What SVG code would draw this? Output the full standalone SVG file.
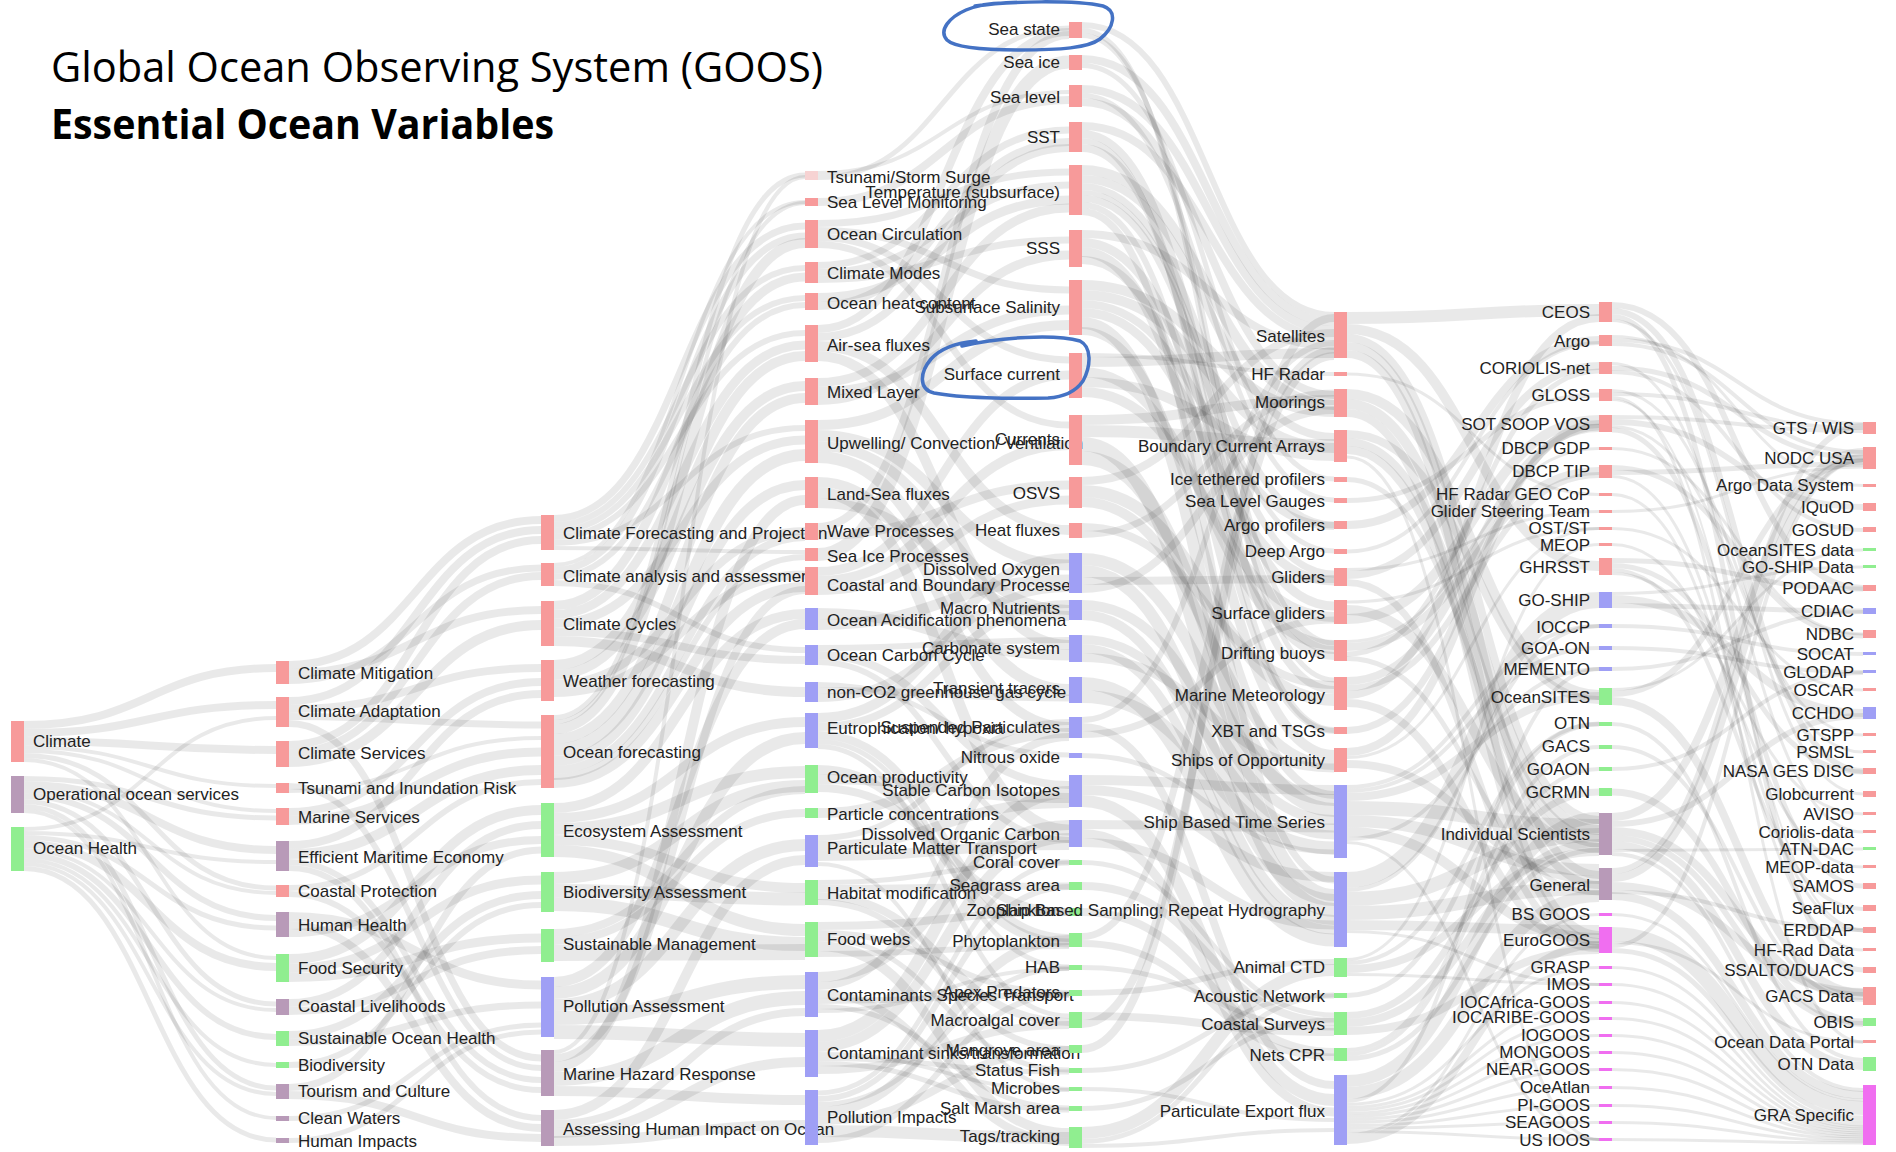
<svg xmlns="http://www.w3.org/2000/svg" width="1896" height="1152" viewBox="0 0 1896 1152">
<style>
.t{font-family:"Liberation Sans",Arial,sans-serif;font-size:17px;fill:#222}
.e{text-anchor:end}
#links path{fill:none;stroke:#000;stroke-opacity:.085}
.r{fill:#f79a9a}.g{fill:#90ee90}.b{fill:#9f9ff5}.m{fill:#b89ab8}.v{fill:#f06ef0}.p{fill:#f7d3d3}
.ttl{font-family:"Open Sans","Liberation Sans",sans-serif;font-size:42px;fill:#000}
.ann{fill:none;stroke:#4472c4;stroke-width:3.5;stroke-linecap:round;stroke-linejoin:round}
</style>
<rect width="1896" height="1152" fill="#fff"/>
<g id="links">
<path stroke-width="8" d="M24 725C150 725 150 668 276 668"/>
<path stroke-width="8" d="M24 733C150 733 150 705 276 705"/>
<path stroke-width="8" d="M24 741C150 741 150 750 276 750"/>
<path stroke-width="4" d="M24 747C150 747 150 786 276 786"/>
<path stroke-width="4" d="M24 751C150 751 150 811 276 811"/>
<path stroke-width="5" d="M24 755.5C150 755.5 150 888 276 888"/>
<path stroke-width="4" d="M24 760C150 760 150 958 276 958"/>
<path stroke-width="5" d="M24 778.5C150 778.5 150 818 276 818"/>
<path stroke-width="8" d="M24 785C150 785 150 850 276 850"/>
<path stroke-width="4" d="M24 791C150 791 150 893 276 893"/>
<path stroke-width="6" d="M24 796C150 796 150 918 276 918"/>
<path stroke-width="5" d="M24 801.5C150 801.5 150 1004 276 1004"/>
<path stroke-width="5" d="M24 806.5C150 806.5 150 1088 276 1088"/>
<path stroke-width="4" d="M24 811C150 811 150 1118 276 1118"/>
<path stroke-width="4" d="M24 829C150 829 150 718 276 718"/>
<path stroke-width="4" d="M24 833C150 833 150 862 276 862"/>
<path stroke-width="5" d="M24 837.5C150 837.5 150 928 276 928"/>
<path stroke-width="8" d="M24 844C150 844 150 967 276 967"/>
<path stroke-width="4" d="M24 850C150 850 150 1010 276 1010"/>
<path stroke-width="6" d="M24 855C150 855 150 1037 276 1037"/>
<path stroke-width="4" d="M24 860C150 860 150 1065 276 1065"/>
<path stroke-width="4" d="M24 864C150 864 150 1094 276 1094"/>
<path stroke-width="5" d="M24 868.5C150 868.5 150 1140 276 1140"/>
<path stroke-width="8" d="M289 665C415 665 415 520 541 520"/>
<path stroke-width="8" d="M289 673C415 673 415 610 541 610"/>
<path stroke-width="7" d="M289 680.5C415 680.5 415 568 541 568"/>
<path stroke-width="8" d="M289 701C415 701 415 530 541 530"/>
<path stroke-width="8" d="M289 709C415 709 415 668 541 668"/>
<path stroke-width="7" d="M289 716.5C415 716.5 415 725 541 725"/>
<path stroke-width="7" d="M289 723.5C415 723.5 415 1058 541 1058"/>
<path stroke-width="8" d="M289 745C415 745 415 540 541 540"/>
<path stroke-width="8" d="M289 753C415 753 415 576 541 576"/>
<path stroke-width="10" d="M289 762C415 762 415 625 541 625"/>
<path stroke-width="6" d="M289 786C415 786 415 1068 541 1068"/>
<path stroke-width="4" d="M289 791C415 791 415 738 541 738"/>
<path stroke-width="8" d="M289 812C415 812 415 682 541 682"/>
<path stroke-width="9" d="M289 820.5C415 820.5 415 752 541 752"/>
<path stroke-width="8" d="M289 845C415 845 415 694 541 694"/>
<path stroke-width="10" d="M289 854C415 854 415 770 541 770"/>
<path stroke-width="6" d="M289 862C415 862 415 1080 541 1080"/>
<path stroke-width="6" d="M289 868C415 868 415 1118 541 1118"/>
<path stroke-width="6" d="M289 888C415 888 415 782 541 782"/>
<path stroke-width="6" d="M289 894C415 894 415 1090 541 1090"/>
<path stroke-width="9" d="M289 916.5C415 916.5 415 985 541 985"/>
<path stroke-width="8" d="M289 925C415 925 415 1128 541 1128"/>
<path stroke-width="8" d="M289 933C415 933 415 840 541 840"/>
<path stroke-width="10" d="M289 959C415 959 415 810 541 810"/>
<path stroke-width="9" d="M289 968.5C415 968.5 415 880 541 880"/>
<path stroke-width="9" d="M289 977.5C415 977.5 415 938 541 938"/>
<path stroke-width="8" d="M289 1003C415 1003 415 825 541 825"/>
<path stroke-width="8" d="M289 1011C415 1011 415 950 541 950"/>
<path stroke-width="8" d="M289 1035C415 1035 415 895 541 895"/>
<path stroke-width="7" d="M289 1042.5C415 1042.5 415 1005 541 1005"/>
<path stroke-width="6" d="M289 1065C415 1065 415 905 541 905"/>
<path stroke-width="7" d="M289 1087.5C415 1087.5 415 850 541 850"/>
<path stroke-width="8" d="M289 1095C415 1095 415 1138 541 1138"/>
<path stroke-width="5" d="M289 1118.5C415 1118.5 415 1025 541 1025"/>
<path stroke-width="5" d="M289 1140.5C415 1140.5 415 1032 541 1032"/>
<path stroke-width="7" d="M554 518.5C680 518.5 680 226 805 226"/>
<path stroke-width="6" d="M554 525C680 525 680 268 805 268"/>
<path stroke-width="6" d="M554 531C680 531 680 298 805 298"/>
<path stroke-width="6" d="M554 537C680 537 680 333 805 333"/>
<path stroke-width="6" d="M554 543C680 543 680 428 805 428"/>
<path stroke-width="4" d="M554 548C680 548 680 552 805 552"/>
<path stroke-width="4" d="M554 565C680 565 680 202 805 202"/>
<path stroke-width="7" d="M554 570.5C680 570.5 680 236 805 236"/>
<path stroke-width="6" d="M554 577C680 577 680 305 805 305"/>
<path stroke-width="6" d="M554 583C680 583 680 650 805 650"/>
<path stroke-width="9" d="M554 605.5C680 605.5 680 277 805 277"/>
<path stroke-width="9" d="M554 614.5C680 614.5 680 345 805 345"/>
<path stroke-width="9" d="M554 623.5C680 623.5 680 440 805 440"/>
<path stroke-width="8" d="M554 632C680 632 680 660 805 660"/>
<path stroke-width="10" d="M554 641C680 641 680 692 805 692"/>
<path stroke-width="10" d="M554 665C680 665 680 356 805 356"/>
<path stroke-width="10" d="M554 675C680 675 680 386 805 386"/>
<path stroke-width="8" d="M554 684C680 684 680 531 805 531"/>
<path stroke-width="9" d="M554 692.5C680 692.5 680 575 805 575"/>
<path stroke-width="5" d="M554 717.5C680 717.5 680 175 805 175"/>
<path stroke-width="4" d="M554 722C680 722 680 203 805 203"/>
<path stroke-width="10" d="M554 729C680 729 680 243 805 243"/>
<path stroke-width="10" d="M554 739C680 739 680 398 805 398"/>
<path stroke-width="12" d="M554 750C680 750 680 455 805 455"/>
<path stroke-width="10" d="M554 761C680 761 680 485 805 485"/>
<path stroke-width="8" d="M554 770C680 770 680 537 805 537"/>
<path stroke-width="6" d="M554 777C680 777 680 557 805 557"/>
<path stroke-width="10" d="M554 783C680 783 680 587 805 587"/>
<path stroke-width="10" d="M554 808C680 808 680 614 805 614"/>
<path stroke-width="10" d="M554 818C680 818 680 722 805 722"/>
<path stroke-width="12" d="M554 829C680 829 680 772 805 772"/>
<path stroke-width="10" d="M554 840C680 840 680 888 805 888"/>
<path stroke-width="12" d="M554 851C680 851 680 930 805 930"/>
<path stroke-width="12" d="M554 878C680 878 680 786 805 786"/>
<path stroke-width="13" d="M554 890.5C680 890.5 680 899 805 899"/>
<path stroke-width="14" d="M554 904C680 904 680 944 805 944"/>
<path stroke-width="8" d="M554 933C680 933 680 790 805 790"/>
<path stroke-width="8" d="M554 941C680 941 680 813 805 813"/>
<path stroke-width="16" d="M554 953C680 953 680 952 805 952"/>
<path stroke-width="10" d="M554 982C680 982 680 624 805 624"/>
<path stroke-width="12" d="M554 993C680 993 680 738 805 738"/>
<path stroke-width="12" d="M554 1005C680 1005 680 845 805 845"/>
<path stroke-width="14" d="M554 1018C680 1018 680 982 805 982"/>
<path stroke-width="14" d="M554 1032C680 1032 680 1040 805 1040"/>
<path stroke-width="4" d="M554 1052C680 1052 680 177 805 177"/>
<path stroke-width="8" d="M554 1058C680 1058 680 590 805 590"/>
<path stroke-width="10" d="M554 1067C680 1067 680 500 805 500"/>
<path stroke-width="14" d="M554 1079C680 1079 680 998 805 998"/>
<path stroke-width="10" d="M554 1091C680 1091 680 1100 805 1100"/>
<path stroke-width="10" d="M554 1115C680 1115 680 860 805 860"/>
<path stroke-width="8" d="M554 1124C680 1124 680 1012 805 1012"/>
<path stroke-width="10" d="M554 1133C680 1133 680 1062 805 1062"/>
<path stroke-width="10" d="M554 1141C680 1141 680 1125 805 1125"/>
<path stroke-width="4" d="M818 173C943 173 943 92 1069 92"/>
<path stroke-width="5" d="M818 177.5C943 177.5 943 28 1069 28"/>
<path stroke-width="8" d="M818 202C943 202 943 100 1069 100"/>
<path stroke-width="7" d="M818 223.5C943 223.5 943 172 1069 172"/>
<path stroke-width="7" d="M818 230.5C943 230.5 943 290 1069 290"/>
<path stroke-width="7" d="M818 237.5C943 237.5 943 360 1069 360"/>
<path stroke-width="7" d="M818 244.5C943 244.5 943 425 1069 425"/>
<path stroke-width="7" d="M818 265.5C943 265.5 943 130 1069 130"/>
<path stroke-width="7" d="M818 272.5C943 272.5 943 185 1069 185"/>
<path stroke-width="7" d="M818 279.5C943 279.5 943 240 1069 240"/>
<path stroke-width="9" d="M818 297.5C943 297.5 943 200 1069 200"/>
<path stroke-width="8" d="M818 306C943 306 943 142 1069 142"/>
<path stroke-width="8" d="M818 329C943 329 943 32 1069 32"/>
<path stroke-width="8" d="M818 337C943 337 943 148 1069 148"/>
<path stroke-width="10" d="M818 346C943 346 943 530 1069 530"/>
<path stroke-width="10" d="M818 356C943 356 943 645 1069 645"/>
<path stroke-width="9" d="M818 382.5C943 382.5 943 208 1069 208"/>
<path stroke-width="9" d="M818 391.5C943 391.5 943 310 1069 310"/>
<path stroke-width="9" d="M818 400.5C943 400.5 943 255 1069 255"/>
<path stroke-width="10" d="M818 425C943 425 943 325 1069 325"/>
<path stroke-width="11" d="M818 435.5C943 435.5 943 565 1069 565"/>
<path stroke-width="10" d="M818 446C943 446 943 610 1069 610"/>
<path stroke-width="12" d="M818 457C943 457 943 690 1069 690"/>
<path stroke-width="10" d="M818 482C943 482 943 727 1069 727"/>
<path stroke-width="11" d="M818 492.5C943 492.5 943 830 1069 830"/>
<path stroke-width="10" d="M818 503C943 503 943 616 1069 616"/>
<path stroke-width="8" d="M818 527C943 527 943 35 1069 35"/>
<path stroke-width="9" d="M818 535.5C943 535.5 943 485 1069 485"/>
<path stroke-width="13" d="M818 554.5C943 554.5 943 62 1069 62"/>
<path stroke-width="9" d="M818 571.5C943 571.5 943 375 1069 375"/>
<path stroke-width="10" d="M818 581C943 581 943 445 1069 445"/>
<path stroke-width="9" d="M818 590.5C943 590.5 943 500 1069 500"/>
<path stroke-width="11" d="M818 613.5C943 613.5 943 655 1069 655"/>
<path stroke-width="11" d="M818 624.5C943 624.5 943 580 1069 580"/>
<path stroke-width="6" d="M818 648C943 648 943 640 1069 640"/>
<path stroke-width="8" d="M818 655C943 655 943 785 1069 785"/>
<path stroke-width="6" d="M818 662C943 662 943 840 1069 840"/>
<path stroke-width="5" d="M818 684.5C943 684.5 943 755 1069 755"/>
<path stroke-width="7" d="M818 690.5C943 690.5 943 698 1069 698"/>
<path stroke-width="8" d="M818 698C943 698 943 588 1069 588"/>
<path stroke-width="10" d="M818 718C943 718 943 558 1069 558"/>
<path stroke-width="8" d="M818 727C943 727 943 604 1069 604"/>
<path stroke-width="8" d="M818 735C943 735 943 938 1069 938"/>
<path stroke-width="5" d="M818 741.5C943 741.5 943 967 1069 967"/>
<path stroke-width="5" d="M818 746.5C943 746.5 943 1016 1069 1016"/>
<path stroke-width="9" d="M818 769.5C943 769.5 943 943 1069 943"/>
<path stroke-width="10" d="M818 779C943 779 943 798 1069 798"/>
<path stroke-width="8" d="M818 788C943 788 943 912 1069 912"/>
<path stroke-width="10" d="M818 813C943 813 943 733 1069 733"/>
<path stroke-width="6" d="M818 838C943 838 943 722 1069 722"/>
<path stroke-width="10" d="M818 846C943 846 943 803 1069 803"/>
<path stroke-width="10" d="M818 856C943 856 943 845 1069 845"/>
<path stroke-width="4" d="M818 864C943 864 943 1089 1069 1089"/>
<path stroke-width="5" d="M818 882.5C943 882.5 943 862 1069 862"/>
<path stroke-width="7" d="M818 888.5C943 888.5 943 886 1069 886"/>
<path stroke-width="8" d="M818 896C943 896 943 1022 1069 1022"/>
<path stroke-width="6" d="M818 902C943 902 943 1049 1069 1049"/>
<path stroke-width="8" d="M818 926C943 926 943 912 1069 912"/>
<path stroke-width="6" d="M818 933C943 933 943 993 1069 993"/>
<path stroke-width="5" d="M818 938.5C943 938.5 943 1070 1069 1070"/>
<path stroke-width="10" d="M818 946C943 946 943 1133 1069 1133"/>
<path stroke-width="6" d="M818 954C943 954 943 946 1069 946"/>
<path stroke-width="10" d="M818 977C943 977 943 825 1069 825"/>
<path stroke-width="8" d="M818 986C943 986 943 737 1069 737"/>
<path stroke-width="8" d="M818 994C943 994 943 1142 1069 1142"/>
<path stroke-width="6" d="M818 1001C943 1001 943 995 1069 995"/>
<path stroke-width="5" d="M818 1006.5C943 1006.5 943 1108 1069 1108"/>
<path stroke-width="4" d="M818 1011C943 1011 943 969 1069 969"/>
<path stroke-width="12" d="M818 1036C943 1036 943 792 1069 792"/>
<path stroke-width="10" d="M818 1047C943 1047 943 838 1069 838"/>
<path stroke-width="4" d="M818 1054C943 1054 943 1090 1069 1090"/>
<path stroke-width="5" d="M818 1058.5C943 1058.5 943 1072 1069 1072"/>
<path stroke-width="5" d="M818 1063.5C943 1063.5 943 1110 1069 1110"/>
<path stroke-width="8" d="M818 1070C943 1070 943 1025 1069 1025"/>
<path stroke-width="5" d="M818 1093C943 1093 943 863 1069 863"/>
<path stroke-width="6" d="M818 1099C943 1099 943 887 1069 887"/>
<path stroke-width="5" d="M818 1104.5C943 1104.5 943 968 1069 968"/>
<path stroke-width="10" d="M818 1112C943 1112 943 940 1069 940"/>
<path stroke-width="8" d="M818 1121C943 1121 943 1050 1069 1050"/>
<path stroke-width="12" d="M818 1131C943 1131 943 1138 1069 1138"/>
<path stroke-width="6" d="M818 1140C943 1140 943 994 1069 994"/>
<path stroke-width="6" d="M1082 25C1208 25 1208 315 1334 315"/>
<path stroke-width="5" d="M1082 30.5C1208 30.5 1208 680 1334 680"/>
<path stroke-width="5" d="M1082 35.5C1208 35.5 1208 643 1334 643"/>
<path stroke-width="8" d="M1082 59C1208 59 1208 322 1334 322"/>
<path stroke-width="5" d="M1082 65.5C1208 65.5 1208 479 1334 479"/>
<path stroke-width="8" d="M1082 89C1208 89 1208 330 1334 330"/>
<path stroke-width="5" d="M1082 95.5C1208 95.5 1208 500 1334 500"/>
<path stroke-width="8" d="M1082 102C1208 102 1208 395 1334 395"/>
<path stroke-width="8" d="M1082 126C1208 126 1208 338 1334 338"/>
<path stroke-width="8" d="M1082 134C1208 134 1208 650 1334 650"/>
<path stroke-width="6" d="M1082 141C1208 141 1208 730 1334 730"/>
<path stroke-width="8" d="M1082 148C1208 148 1208 690 1334 690"/>
<path stroke-width="10" d="M1082 170C1208 170 1208 405 1334 405"/>
<path stroke-width="8" d="M1082 179C1208 179 1208 437 1334 437"/>
<path stroke-width="7" d="M1082 186.5C1208 186.5 1208 525 1334 525"/>
<path stroke-width="5" d="M1082 192.5C1208 192.5 1208 551 1334 551"/>
<path stroke-width="7" d="M1082 198.5C1208 198.5 1208 574 1334 574"/>
<path stroke-width="6" d="M1082 205C1208 205 1208 731 1334 731"/>
<path stroke-width="7" d="M1082 211.5C1208 211.5 1208 880 1334 880"/>
<path stroke-width="8" d="M1082 234C1208 234 1208 346 1334 346"/>
<path stroke-width="9" d="M1082 242.5C1208 242.5 1208 606 1334 606"/>
<path stroke-width="10" d="M1082 252C1208 252 1208 755 1334 755"/>
<path stroke-width="8" d="M1082 260C1208 260 1208 656 1334 656"/>
<path stroke-width="10" d="M1082 285C1208 285 1208 412 1334 412"/>
<path stroke-width="10" d="M1082 295C1208 295 1208 448 1334 448"/>
<path stroke-width="8" d="M1082 304C1208 304 1208 526 1334 526"/>
<path stroke-width="9" d="M1082 312.5C1208 312.5 1208 581 1334 581"/>
<path stroke-width="12" d="M1082 323C1208 323 1208 895 1334 895"/>
<path stroke-width="8" d="M1082 331C1208 331 1208 795 1334 795"/>
<path stroke-width="4" d="M1082 355C1208 355 1208 374 1334 374"/>
<path stroke-width="10" d="M1082 362C1208 362 1208 353 1334 353"/>
<path stroke-width="10" d="M1082 372C1208 372 1208 645 1334 645"/>
<path stroke-width="10" d="M1082 382C1208 382 1208 456 1334 456"/>
<path stroke-width="10" d="M1082 392C1208 392 1208 617 1334 617"/>
<path stroke-width="10" d="M1082 420C1208 420 1208 400 1334 400"/>
<path stroke-width="12" d="M1082 431C1208 431 1208 445 1334 445"/>
<path stroke-width="14" d="M1082 444C1208 444 1208 910 1334 910"/>
<path stroke-width="14" d="M1082 458C1208 458 1208 810 1334 810"/>
<path stroke-width="8" d="M1082 481C1208 481 1208 333 1334 333"/>
<path stroke-width="12" d="M1082 491C1208 491 1208 700 1334 700"/>
<path stroke-width="10" d="M1082 502C1208 502 1208 765 1334 765"/>
<path stroke-width="8" d="M1082 527C1208 527 1208 685 1334 685"/>
<path stroke-width="7" d="M1082 534.5C1208 534.5 1208 393 1334 393"/>
<path stroke-width="12" d="M1082 559C1208 559 1208 800 1334 800"/>
<path stroke-width="12" d="M1082 571C1208 571 1208 900 1334 900"/>
<path stroke-width="8" d="M1082 581C1208 581 1208 579 1334 579"/>
<path stroke-width="8" d="M1082 589C1208 589 1208 410 1334 410"/>
<path stroke-width="10" d="M1082 605C1208 605 1208 820 1334 820"/>
<path stroke-width="10" d="M1082 615C1208 615 1208 920 1334 920"/>
<path stroke-width="9" d="M1082 639.5C1208 639.5 1208 835 1334 835"/>
<path stroke-width="9" d="M1082 648.5C1208 648.5 1208 930 1334 930"/>
<path stroke-width="9" d="M1082 657.5C1208 657.5 1208 768 1334 768"/>
<path stroke-width="13" d="M1082 683.5C1208 683.5 1208 940 1334 940"/>
<path stroke-width="13" d="M1082 696.5C1208 696.5 1208 848 1334 848"/>
<path stroke-width="6" d="M1082 720C1208 720 1208 343 1334 343"/>
<path stroke-width="8" d="M1082 727C1208 727 1208 1085 1334 1085"/>
<path stroke-width="7" d="M1082 734.5C1208 734.5 1208 620 1334 620"/>
<path stroke-width="5" d="M1082 755.5C1208 755.5 1208 852 1334 852"/>
<path stroke-width="10" d="M1082 780C1208 780 1208 790 1334 790"/>
<path stroke-width="10" d="M1082 790C1208 790 1208 877 1334 877"/>
<path stroke-width="12" d="M1082 801C1208 801 1208 1100 1334 1100"/>
<path stroke-width="9" d="M1082 824.5C1208 824.5 1208 828 1334 828"/>
<path stroke-width="9" d="M1082 833.5C1208 833.5 1208 1112 1334 1112"/>
<path stroke-width="9" d="M1082 842.5C1208 842.5 1208 925 1334 925"/>
<path stroke-width="5" d="M1082 862.5C1208 862.5 1208 1015 1334 1015"/>
<path stroke-width="8" d="M1082 886C1208 886 1208 1022 1334 1022"/>
<path stroke-width="8" d="M1082 912C1208 912 1208 1052 1334 1052"/>
<path stroke-width="7" d="M1082 936.5C1208 936.5 1208 350 1334 350"/>
<path stroke-width="7" d="M1082 943.5C1208 943.5 1208 1057 1334 1057"/>
<path stroke-width="5" d="M1082 967.5C1208 967.5 1208 1028 1334 1028"/>
<path stroke-width="6" d="M1082 993C1208 993 1208 962 1334 962"/>
<path stroke-width="8" d="M1082 1016C1208 1016 1208 1032 1334 1032"/>
<path stroke-width="8" d="M1082 1024C1208 1024 1208 356 1334 356"/>
<path stroke-width="8" d="M1082 1049C1208 1049 1208 318 1334 318"/>
<path stroke-width="5" d="M1082 1070.5C1208 1070.5 1208 995 1334 995"/>
<path stroke-width="4" d="M1082 1089C1208 1089 1208 1120 1334 1120"/>
<path stroke-width="5" d="M1082 1108.5C1208 1108.5 1208 1020 1334 1020"/>
<path stroke-width="12" d="M1082 1133C1208 1133 1208 970 1334 970"/>
<path stroke-width="5" d="M1082 1141.5C1208 1141.5 1208 996 1334 996"/>
<path stroke-width="4" d="M1082 1146C1208 1146 1208 1130 1334 1130"/>
<path stroke-width="12" d="M1347 318C1473 318 1473 310 1599 310"/>
<path stroke-width="10" d="M1347 329C1473 329 1473 566 1599 566"/>
<path stroke-width="8" d="M1347 338C1473 338 1473 820 1599 820"/>
<path stroke-width="8" d="M1347 346C1473 346 1473 875 1599 875"/>
<path stroke-width="8" d="M1347 354C1473 354 1473 935 1599 935"/>
<path stroke-width="3" d="M1347 374C1473 374 1473 494.5 1599 494.5"/>
<path stroke-width="10" d="M1347 394C1473 394 1473 695 1599 695"/>
<path stroke-width="10" d="M1347 404C1473 404 1473 830 1599 830"/>
<path stroke-width="8" d="M1347 413C1473 413 1473 942 1599 942"/>
<path stroke-width="8" d="M1347 434C1473 434 1473 700 1599 700"/>
<path stroke-width="8" d="M1347 442C1473 442 1473 838 1599 838"/>
<path stroke-width="8" d="M1347 450C1473 450 1473 885 1599 885"/>
<path stroke-width="3" d="M1347 457C1473 457 1473 1139.5 1599 1139.5"/>
<path stroke-width="5" d="M1347 479.5C1473 479.5 1473 845 1599 845"/>
<path stroke-width="5" d="M1347 500.5C1473 500.5 1473 395 1599 395"/>
<path stroke-width="8" d="M1347 525C1473 525 1473 340 1599 340"/>
<path stroke-width="4" d="M1347 551.5C1473 551.5 1473 343 1599 343"/>
<path stroke-width="3" d="M1347 569.5C1473 569.5 1473 511.5 1599 511.5"/>
<path stroke-width="8" d="M1347 575C1473 575 1473 366 1599 366"/>
<path stroke-width="7" d="M1347 582.5C1473 582.5 1473 945 1599 945"/>
<path stroke-width="3" d="M1347 602C1473 602 1473 528.5 1599 528.5"/>
<path stroke-width="10" d="M1347 610C1473 610 1473 848 1599 848"/>
<path stroke-width="10" d="M1347 619C1473 619 1473 420 1599 420"/>
<path stroke-width="3" d="M1347 641.5C1473 641.5 1473 448.5 1599 448.5"/>
<path stroke-width="8" d="M1347 647C1473 647 1473 471 1599 471"/>
<path stroke-width="5" d="M1347 654C1473 654 1473 371 1599 371"/>
<path stroke-width="5" d="M1347 658.5C1473 658.5 1473 893 1599 893"/>
<path stroke-width="8" d="M1347 681C1473 681 1473 428 1599 428"/>
<path stroke-width="6" d="M1347 688C1473 688 1473 475 1599 475"/>
<path stroke-width="8" d="M1347 695C1473 695 1473 318 1599 318"/>
<path stroke-width="8" d="M1347 703C1473 703 1473 948 1599 948"/>
<path stroke-width="7" d="M1347 730.5C1473 730.5 1473 427 1599 427"/>
<path stroke-width="8" d="M1347 752C1473 752 1473 424 1599 424"/>
<path stroke-width="3" d="M1347 757.5C1473 757.5 1473 528.5 1599 528.5"/>
<path stroke-width="8" d="M1347 764C1473 764 1473 880 1599 880"/>
<path stroke-width="4" d="M1347 787C1473 787 1473 626 1599 626"/>
<path stroke-width="4" d="M1347 791C1473 791 1473 648 1599 648"/>
<path stroke-width="8" d="M1347 797C1473 797 1473 696 1599 696"/>
<path stroke-width="14" d="M1347 808C1473 808 1473 826 1599 826"/>
<path stroke-width="12" d="M1347 821C1473 821 1473 870 1599 870"/>
<path stroke-width="10" d="M1347 832C1473 832 1473 938 1599 938"/>
<path stroke-width="4" d="M1347 839C1473 839 1473 669 1599 669"/>
<path stroke-width="3" d="M1347 842.5C1473 842.5 1473 1139.5 1599 1139.5"/>
<path stroke-width="16" d="M1347 880C1473 880 1473 600 1599 600"/>
<path stroke-width="4" d="M1347 890C1473 890 1473 626 1599 626"/>
<path stroke-width="14" d="M1347 899C1473 899 1473 835 1599 835"/>
<path stroke-width="14" d="M1347 913C1473 913 1473 888 1599 888"/>
<path stroke-width="10" d="M1347 925C1473 925 1473 930 1599 930"/>
<path stroke-width="3" d="M1347 931.5C1473 931.5 1473 984.5 1599 984.5"/>
<path stroke-width="3" d="M1347 959.5C1473 959.5 1473 544.5 1599 544.5"/>
<path stroke-width="4" d="M1347 963C1473 963 1473 724 1599 724"/>
<path stroke-width="8" d="M1347 969C1473 969 1473 852 1599 852"/>
<path stroke-width="3" d="M1347 974.5C1473 974.5 1473 984.5 1599 984.5"/>
<path stroke-width="5" d="M1347 995.5C1473 995.5 1473 724 1599 724"/>
<path stroke-width="7" d="M1347 1015.5C1473 1015.5 1473 792 1599 792"/>
<path stroke-width="8" d="M1347 1023C1473 1023 1473 843 1599 843"/>
<path stroke-width="8" d="M1347 1031C1473 1031 1473 950 1599 950"/>
<path stroke-width="4" d="M1347 1050C1473 1050 1473 747 1599 747"/>
<path stroke-width="4" d="M1347 1054C1473 1054 1473 769 1599 769"/>
<path stroke-width="5" d="M1347 1058.5C1473 1058.5 1473 850 1599 850"/>
<path stroke-width="12" d="M1347 1081C1473 1081 1473 818 1599 818"/>
<path stroke-width="12" d="M1347 1093C1473 1093 1473 896 1599 896"/>
<path stroke-width="4" d="M1347 1101C1473 1101 1473 669 1599 669"/>
<path stroke-width="3" d="M1347 1104.5C1473 1104.5 1473 967.5 1599 967.5"/>
<path stroke-width="3" d="M1347 1107.5C1473 1107.5 1473 1002.5 1599 1002.5"/>
<path stroke-width="3" d="M1347 1110.5C1473 1110.5 1473 1018.5 1599 1018.5"/>
<path stroke-width="3" d="M1347 1113.5C1473 1113.5 1473 1035.5 1599 1035.5"/>
<path stroke-width="3" d="M1347 1116.5C1473 1116.5 1473 1052.5 1599 1052.5"/>
<path stroke-width="3" d="M1347 1119.5C1473 1119.5 1473 1069.5 1599 1069.5"/>
<path stroke-width="3" d="M1347 1122.5C1473 1122.5 1473 1087.5 1599 1087.5"/>
<path stroke-width="3" d="M1347 1125.5C1473 1125.5 1473 1105.5 1599 1105.5"/>
<path stroke-width="3" d="M1347 1128.5C1473 1128.5 1473 1122.5 1599 1122.5"/>
<path stroke-width="3" d="M1347 1131.5C1473 1131.5 1473 1139.5 1599 1139.5"/>
<path stroke-width="3" d="M1347 1134.5C1473 1134.5 1473 914.5 1599 914.5"/>
<path stroke-width="8" d="M1347 1140C1473 1140 1473 945 1599 945"/>
<path stroke-width="6" d="M1612 305C1738 305 1738 588 1863 588"/>
<path stroke-width="6" d="M1612 311C1738 311 1738 771 1863 771"/>
<path stroke-width="5" d="M1612 316.5C1738 316.5 1738 970 1863 970"/>
<path stroke-width="3" d="M1612 320.5C1738 320.5 1738 794 1863 794"/>
<path stroke-width="3" d="M1612 336.5C1738 336.5 1738 485.5 1863 485.5"/>
<path stroke-width="4" d="M1612 340C1738 340 1738 424 1863 424"/>
<path stroke-width="4" d="M1612 344C1738 344 1738 452 1863 452"/>
<path stroke-width="3" d="M1612 363.5C1738 363.5 1738 832 1863 832"/>
<path stroke-width="5" d="M1612 368C1738 368 1738 458 1863 458"/>
<path stroke-width="4" d="M1612 372C1738 372 1738 530 1863 530"/>
<path stroke-width="3" d="M1612 390.5C1738 390.5 1738 752 1863 752"/>
<path stroke-width="4" d="M1612 394C1738 394 1738 428 1863 428"/>
<path stroke-width="3" d="M1612 397.5C1738 397.5 1738 1042 1863 1042"/>
<path stroke-width="2" d="M1612 400C1738 400 1738 929 1863 929"/>
<path stroke-width="4" d="M1612 417C1738 417 1738 431 1863 431"/>
<path stroke-width="6" d="M1612 422C1738 422 1738 507 1863 507"/>
<path stroke-width="3" d="M1612 426.5C1738 426.5 1738 735 1863 735"/>
<path stroke-width="5" d="M1612 430C1738 430 1738 886 1863 886"/>
<path stroke-width="3" d="M1612 448.5C1738 448.5 1738 634 1863 634"/>
<path stroke-width="5" d="M1612 467.5C1738 467.5 1738 636 1863 636"/>
<path stroke-width="5" d="M1612 472.5C1738 472.5 1738 464 1863 464"/>
<path stroke-width="3" d="M1612 476.5C1738 476.5 1738 931 1863 931"/>
<path stroke-width="3" d="M1612 494.5C1738 494.5 1738 950 1863 950"/>
<path stroke-width="3" d="M1612 511.5C1738 511.5 1738 467 1863 467"/>
<path stroke-width="3" d="M1612 528.5C1738 528.5 1738 690 1863 690"/>
<path stroke-width="3" d="M1612 544.5C1738 544.5 1738 867 1863 867"/>
<path stroke-width="5" d="M1612 560.5C1738 560.5 1738 589 1863 589"/>
<path stroke-width="5" d="M1612 565.5C1738 565.5 1738 772 1863 772"/>
<path stroke-width="4" d="M1612 570C1738 570 1738 909 1863 909"/>
<path stroke-width="3" d="M1612 573.5C1738 573.5 1738 814 1863 814"/>
<path stroke-width="3" d="M1612 593.5C1738 593.5 1738 567 1863 567"/>
<path stroke-width="8" d="M1612 599C1738 599 1738 713 1863 713"/>
<path stroke-width="5" d="M1612 605.5C1738 605.5 1738 611 1863 611"/>
<path stroke-width="4" d="M1612 626C1738 626 1738 654 1863 654"/>
<path stroke-width="4" d="M1612 648C1738 648 1738 672 1863 672"/>
<path stroke-width="4" d="M1612 669C1738 669 1738 612 1863 612"/>
<path stroke-width="3" d="M1612 689.5C1738 689.5 1738 550 1863 550"/>
<path stroke-width="6" d="M1612 694C1738 694 1738 462 1863 462"/>
<path stroke-width="8" d="M1612 701C1738 701 1738 993 1863 993"/>
<path stroke-width="4" d="M1612 724C1738 724 1738 1060 1863 1060"/>
<path stroke-width="4" d="M1612 747C1738 747 1738 1000 1863 1000"/>
<path stroke-width="4" d="M1612 769C1738 769 1738 673 1863 673"/>
<path stroke-width="7" d="M1612 792C1738 792 1738 1022 1863 1022"/>
<path stroke-width="8" d="M1612 817C1738 817 1738 452 1863 452"/>
<path stroke-width="6" d="M1612 824C1738 824 1738 716 1863 716"/>
<path stroke-width="8" d="M1612 831C1738 831 1738 996 1863 996"/>
<path stroke-width="6" d="M1612 838C1738 838 1738 1024 1863 1024"/>
<path stroke-width="8" d="M1612 845C1738 845 1738 1066 1863 1066"/>
<path stroke-width="3" d="M1612 850.5C1738 850.5 1738 849 1863 849"/>
<path stroke-width="4" d="M1612 854C1738 854 1738 1090 1863 1090"/>
<path stroke-width="6" d="M1612 871C1738 871 1738 426 1863 426"/>
<path stroke-width="8" d="M1612 878C1738 878 1738 458 1863 458"/>
<path stroke-width="8" d="M1612 886C1738 886 1738 992 1863 992"/>
<path stroke-width="4" d="M1612 892C1738 892 1738 930 1863 930"/>
<path stroke-width="8" d="M1612 896C1738 896 1738 1095 1863 1095"/>
<path stroke-width="3" d="M1612 914.5C1738 914.5 1738 1100 1863 1100"/>
<path stroke-width="14" d="M1612 934C1738 934 1738 1108 1863 1108"/>
<path stroke-width="3" d="M1612 942.5C1738 942.5 1738 1042 1863 1042"/>
<path stroke-width="4" d="M1612 946C1738 946 1738 460 1863 460"/>
<path stroke-width="5" d="M1612 950.5C1738 950.5 1738 1118 1863 1118"/>
<path stroke-width="3" d="M1612 967.5C1738 967.5 1738 1122 1863 1122"/>
<path stroke-width="3" d="M1612 984.5C1738 984.5 1738 1125 1863 1125"/>
<path stroke-width="3" d="M1612 1002.5C1738 1002.5 1738 1127 1863 1127"/>
<path stroke-width="3" d="M1612 1018.5C1738 1018.5 1738 1129 1863 1129"/>
<path stroke-width="3" d="M1612 1035.5C1738 1035.5 1738 1131 1863 1131"/>
<path stroke-width="3" d="M1612 1052.5C1738 1052.5 1738 1133 1863 1133"/>
<path stroke-width="3" d="M1612 1069.5C1738 1069.5 1738 1135 1863 1135"/>
<path stroke-width="3" d="M1612 1087.5C1738 1087.5 1738 1137 1863 1137"/>
<path stroke-width="3" d="M1612 1105.5C1738 1105.5 1738 1139 1863 1139"/>
<path stroke-width="3" d="M1612 1122.5C1738 1122.5 1738 1141 1863 1141"/>
<path stroke-width="3" d="M1612 1139.5C1738 1139.5 1738 1143 1863 1143"/>
</g>
<g id="nodes">
<g id="n-climate"><rect class="r" x="11" y="721" width="13" height="41"/><text class="t" x="33" y="747">Climate</text></g>
<g id="n-operational"><rect class="m" x="11" y="776" width="13" height="37"/><text class="t" x="33" y="800">Operational ocean services</text></g>
<g id="n-oceanhealth"><rect class="g" x="11" y="827" width="13" height="44"/><text class="t" x="33" y="854">Ocean Health</text></g>

<g id="n-climatemitigation"><rect class="r" x="276" y="661" width="13" height="23"/><text class="t" x="298" y="679">Climate Mitigation</text></g>
<g id="n-climateadaptation"><rect class="r" x="276" y="697" width="13" height="30"/><text class="t" x="298" y="717">Climate Adaptation</text></g>
<g id="n-climateservices"><rect class="r" x="276" y="741" width="13" height="26"/><text class="t" x="298" y="759">Climate Services</text></g>
<g id="n-tsunamirisk"><rect class="r" x="276" y="783" width="13" height="10"/><text class="t" x="298" y="794">Tsunami and Inundation Risk</text></g>
<g id="n-marineservices"><rect class="r" x="276" y="808" width="13" height="17"/><text class="t" x="298" y="823">Marine Services</text></g>
<g id="n-efficient"><rect class="m" x="276" y="841" width="13" height="30"/><text class="t" x="298" y="863">Efficient Maritime Economy</text></g>
<g id="n-coastalprotection"><rect class="r" x="276" y="885" width="13" height="12"/><text class="t" x="298" y="897">Coastal Protection</text></g>
<g id="n-humanhealth"><rect class="m" x="276" y="912" width="13" height="25"/><text class="t" x="298" y="931">Human Health</text></g>
<g id="n-foodsecurity"><rect class="g" x="276" y="954" width="13" height="28"/><text class="t" x="298" y="974">Food Security</text></g>
<g id="n-coastallivelihoods"><rect class="m" x="276" y="999" width="13" height="16"/><text class="t" x="298" y="1012">Coastal Livelihoods</text></g>
<g id="n-sustainablehealth"><rect class="g" x="276" y="1031" width="13" height="15"/><text class="t" x="298" y="1044">Sustainable Ocean Health</text></g>
<g id="n-biodiversity"><rect class="g" x="276" y="1062" width="13" height="6"/><text class="t" x="298" y="1071">Biodiversity</text></g>
<g id="n-tourism"><rect class="m" x="276" y="1084" width="13" height="15"/><text class="t" x="298" y="1097">Tourism and Culture</text></g>
<g id="n-cleanwaters"><rect class="m" x="276" y="1116" width="13" height="5"/><text class="t" x="298" y="1124">Clean Waters</text></g>
<g id="n-humanimpacts"><rect class="m" x="276" y="1138" width="13" height="5"/><text class="t" x="298" y="1147">Human Impacts</text></g>

<g id="n-forecastproj"><rect class="r" x="541" y="515" width="13" height="35"/><text class="t" x="563" y="539">Climate Forecasting and Projection</text></g>
<g id="n-climateanalysis"><rect class="r" x="541" y="563" width="13" height="23"/><text class="t" x="563" y="582">Climate analysis and assessment</text></g>
<g id="n-climatecycles"><rect class="r" x="541" y="601" width="13" height="45"/><text class="t" x="563" y="630">Climate Cycles</text></g>
<g id="n-weather"><rect class="r" x="541" y="660" width="13" height="41"/><text class="t" x="563" y="687">Weather forecasting</text></g>
<g id="n-oceanforecast"><rect class="r" x="541" y="715" width="13" height="73"/><text class="t" x="563" y="758">Ocean forecasting</text></g>
<g id="n-ecosystem"><rect class="g" x="541" y="803" width="13" height="54"/><text class="t" x="563" y="837">Ecosystem Assessment</text></g>
<g id="n-biodivassess"><rect class="g" x="541" y="872" width="13" height="40"/><text class="t" x="563" y="898">Biodiversity Assessment</text></g>
<g id="n-sustmgmt"><rect class="g" x="541" y="929" width="13" height="33"/><text class="t" x="563" y="950">Sustainable Management</text></g>
<g id="n-pollassess"><rect class="b" x="541" y="977" width="13" height="60"/><text class="t" x="563" y="1012">Pollution Assessment</text></g>
<g id="n-hazard"><rect class="m" x="541" y="1050" width="13" height="46"/><text class="t" x="563" y="1080">Marine Hazard Response</text></g>
<g id="n-humanimpact"><rect class="m" x="541" y="1110" width="13" height="36"/><text class="t" x="563" y="1135">Assessing Human Impact on Ocean</text></g>

<g id="n-stormsurge"><rect class="p" x="805" y="171" width="13" height="9"/><text class="t" x="827" y="183">Tsunami/Storm Surge</text></g>
<g id="n-slmonitoring"><rect class="r" x="805" y="198" width="13" height="8"/><text class="t" x="827" y="208">Sea Level Monitoring</text></g>
<g id="n-circulation"><rect class="r" x="805" y="220" width="13" height="28"/><text class="t" x="827" y="240">Ocean Circulation</text></g>
<g id="n-climatemodes"><rect class="r" x="805" y="262" width="13" height="21"/><text class="t" x="827" y="279">Climate Modes</text></g>
<g id="n-heatcontent"><rect class="r" x="805" y="293" width="13" height="17"/><text class="t" x="827" y="309">Ocean heat content</text></g>
<g id="n-airsea"><rect class="r" x="805" y="325" width="13" height="37"/><text class="t" x="827" y="351">Air-sea fluxes</text></g>
<g id="n-mixedlayer"><rect class="r" x="805" y="378" width="13" height="27"/><text class="t" x="827" y="398">Mixed Layer</text></g>
<g id="n-upwelling"><rect class="r" x="805" y="420" width="13" height="43"/><text class="t" x="827" y="449">Upwelling/ Convection/ Ventilation</text></g>
<g id="n-landsea"><rect class="r" x="805" y="477" width="13" height="31"/><text class="t" x="827" y="500">Land-Sea fluxes</text></g>
<g id="n-wave"><rect class="r" x="805" y="523" width="13" height="17"/><text class="t" x="827" y="537">Wave Processes</text></g>
<g id="n-seaiceproc"><rect class="r" x="805" y="548" width="13" height="13"/><text class="t" x="827" y="562">Sea Ice Processes</text></g>
<g id="n-coastalbound"><rect class="r" x="805" y="567" width="13" height="28"/><text class="t" x="827" y="591">Coastal and Boundary Processes</text></g>
<g id="n-acidification"><rect class="b" x="805" y="608" width="13" height="22"/><text class="t" x="827" y="626">Ocean Acidification phenomena</text></g>
<g id="n-carboncycle"><rect class="b" x="805" y="645" width="13" height="20"/><text class="t" x="827" y="661">Ocean Carbon Cycle</text></g>
<g id="n-nonco2"><rect class="b" x="805" y="682" width="13" height="20"/><text class="t" x="827" y="698">non-CO2 greenhouse gas cycle</text></g>
<g id="n-eutroph"><rect class="b" x="805" y="713" width="13" height="35"/><text class="t" x="827" y="734">Eutrophication/ hypoxia</text></g>
<g id="n-productivity"><rect class="g" x="805" y="765" width="13" height="28"/><text class="t" x="827" y="783">Ocean productivity</text></g>
<g id="n-particleconc"><rect class="g" x="805" y="808" width="13" height="10"/><text class="t" x="827" y="820">Particle concentrations</text></g>
<g id="n-pmtransport"><rect class="b" x="805" y="835" width="13" height="32"/><text class="t" x="827" y="854">Particulate Matter Transport</text></g>
<g id="n-habitat"><rect class="g" x="805" y="880" width="13" height="25"/><text class="t" x="827" y="899">Habitat modification</text></g>
<g id="n-foodwebs"><rect class="g" x="805" y="922" width="13" height="35"/><text class="t" x="827" y="945">Food webs</text></g>
<g id="n-contamtransport"><rect class="b" x="805" y="972" width="13" height="45"/><text class="t" x="827" y="1001">Contaminants Species Transport</text></g>
<g id="n-contamsinks"><rect class="b" x="805" y="1030" width="13" height="47"/><text class="t" x="827" y="1059">Contaminant sinks/transformation</text></g>
<g id="n-pollimpacts"><rect class="b" x="805" y="1090" width="13" height="55"/><text class="t" x="827" y="1123">Pollution Impacts</text></g>

<g id="n-seastate"><rect class="r" x="1069" y="22" width="13" height="16"/><text class="t e" x="1060" y="35">Sea state</text></g>
<g id="n-seaice"><rect class="r" x="1069" y="55" width="13" height="15"/><text class="t e" x="1060" y="68">Sea ice</text></g>
<g id="n-sealevel"><rect class="r" x="1069" y="85" width="13" height="22"/><text class="t e" x="1060" y="103">Sea level</text></g>
<g id="n-sst"><rect class="r" x="1069" y="122" width="13" height="30"/><text class="t e" x="1060" y="143">SST</text></g>
<g id="n-tempsub"><rect class="r" x="1069" y="165" width="13" height="50"/><text class="t e" x="1060" y="198">Temperature (subsurface)</text></g>
<g id="n-sss"><rect class="r" x="1069" y="230" width="13" height="37"/><text class="t e" x="1060" y="254">SSS</text></g>
<g id="n-subsal"><rect class="r" x="1069" y="280" width="13" height="55"/><text class="t e" x="1060" y="313">Subsurface Salinity</text></g>
<g id="n-surfcurrent"><rect class="r" x="1069" y="353" width="13" height="45"/><text class="t e" x="1060" y="380">Surface current</text></g>
<g id="n-currents"><rect class="r" x="1069" y="415" width="13" height="50"/><text class="t e" x="1060" y="445">Currents</text></g>
<g id="n-osvs"><rect class="r" x="1069" y="477" width="13" height="31"/><text class="t e" x="1060" y="499">OSVS</text></g>
<g id="n-heatfluxes"><rect class="r" x="1069" y="523" width="13" height="15"/><text class="t e" x="1060" y="536">Heat fluxes</text></g>
<g id="n-oxygen"><rect class="b" x="1069" y="553" width="13" height="40"/><text class="t e" x="1060" y="575">Dissolved Oxygen</text></g>
<g id="n-nutrients"><rect class="b" x="1069" y="600" width="13" height="20"/><text class="t e" x="1060" y="614">Macro Nutrients</text></g>
<g id="n-carbonate"><rect class="b" x="1069" y="635" width="13" height="27"/><text class="t e" x="1060" y="654">Carbonate system</text></g>
<g id="n-tracers"><rect class="b" x="1069" y="677" width="13" height="26"/><text class="t e" x="1060" y="694">Transient tracers</text></g>
<g id="n-suspended"><rect class="b" x="1069" y="717" width="13" height="21"/><text class="t e" x="1060" y="733">Suspended Particulates</text></g>
<g id="n-nitrous"><rect class="b" x="1069" y="753" width="13" height="5"/><text class="t e" x="1060" y="763">Nitrous oxide</text></g>
<g id="n-isotopes"><rect class="b" x="1069" y="775" width="13" height="32"/><text class="t e" x="1060" y="796">Stable Carbon Isotopes</text></g>
<g id="n-doc"><rect class="b" x="1069" y="820" width="13" height="27"/><text class="t e" x="1060" y="840">Dissolved Organic Carbon</text></g>
<g id="n-coral"><rect class="g" x="1069" y="860" width="13" height="5"/><text class="t e" x="1060" y="868">Coral cover</text></g>
<g id="n-seagrass"><rect class="g" x="1069" y="882" width="13" height="8"/><text class="t e" x="1060" y="891">Seagrass area</text></g>
<g id="n-zooplankton"><rect class="g" x="1069" y="908" width="13" height="8"/><text class="t e" x="1060" y="916">Zooplankton</text></g>
<g id="n-phytoplankton"><rect class="g" x="1069" y="933" width="13" height="14"/><text class="t e" x="1060" y="947">Phytoplankton</text></g>
<g id="n-hab"><rect class="g" x="1069" y="965" width="13" height="5"/><text class="t e" x="1060" y="973">HAB</text></g>
<g id="n-apex"><rect class="g" x="1069" y="990" width="13" height="6"/><text class="t e" x="1060" y="998">Apex Predators</text></g>
<g id="n-macroalgal"><rect class="g" x="1069" y="1012" width="13" height="16"/><text class="t e" x="1060" y="1026">Macroalgal cover</text></g>
<g id="n-mangrove"><rect class="g" x="1069" y="1045" width="13" height="8"/><text class="t e" x="1060" y="1056">Mangrove area</text></g>
<g id="n-statusfish"><rect class="g" x="1069" y="1068" width="13" height="5"/><text class="t e" x="1060" y="1076">Status Fish</text></g>
<g id="n-microbes"><rect class="g" x="1069" y="1087" width="13" height="4"/><text class="t e" x="1060" y="1094">Microbes</text></g>
<g id="n-saltmarsh"><rect class="g" x="1069" y="1106" width="13" height="5"/><text class="t e" x="1060" y="1114">Salt Marsh area</text></g>
<g id="n-tags"><rect class="g" x="1069" y="1127" width="13" height="21"/><text class="t e" x="1060" y="1142">Tags/tracking</text></g>

<g id="n-satellites"><rect class="r" x="1334" y="312" width="13" height="46"/><text class="t e" x="1325" y="342">Satellites</text></g>
<g id="n-hfradar"><rect class="r" x="1334" y="372" width="13" height="4"/><text class="t e" x="1325" y="380">HF Radar</text></g>
<g id="n-moorings"><rect class="r" x="1334" y="389" width="13" height="28"/><text class="t e" x="1325" y="408">Moorings</text></g>
<g id="n-boundary"><rect class="r" x="1334" y="430" width="13" height="32"/><text class="t e" x="1325" y="452">Boundary Current Arrays</text></g>
<g id="n-icetethered"><rect class="r" x="1334" y="477" width="13" height="5"/><text class="t e" x="1325" y="485">Ice tethered profilers</text></g>
<g id="n-slgauges"><rect class="r" x="1334" y="498" width="13" height="5"/><text class="t e" x="1325" y="507">Sea Level Gauges</text></g>
<g id="n-argoprof"><rect class="r" x="1334" y="521" width="13" height="8"/><text class="t e" x="1325" y="531">Argo profilers</text></g>
<g id="n-deepargo"><rect class="r" x="1334" y="549" width="13" height="5"/><text class="t e" x="1325" y="557">Deep Argo</text></g>
<g id="n-gliders"><rect class="r" x="1334" y="568" width="13" height="18"/><text class="t e" x="1325" y="583">Gliders</text></g>
<g id="n-surfgliders"><rect class="r" x="1334" y="600" width="13" height="24"/><text class="t e" x="1325" y="619">Surface gliders</text></g>
<g id="n-drifting"><rect class="r" x="1334" y="640" width="13" height="21"/><text class="t e" x="1325" y="659">Drifting buoys</text></g>
<g id="n-marinemet"><rect class="r" x="1334" y="677" width="13" height="33"/><text class="t e" x="1325" y="701">Marine Meteorology</text></g>
<g id="n-xbt"><rect class="r" x="1334" y="727" width="13" height="7"/><text class="t e" x="1325" y="737">XBT and TSGs</text></g>
<g id="n-soop"><rect class="r" x="1334" y="748" width="13" height="24"/><text class="t e" x="1325" y="766">Ships of Opportunity</text></g>
<g id="n-shipts"><rect class="b" x="1334" y="785" width="13" height="73"/><text class="t e" x="1325" y="828">Ship Based Time Series</text></g>
<g id="n-shiprepeat"><rect class="b" x="1334" y="872" width="13" height="75"/><text class="t e" x="1325" y="916">Ship Based Sampling; Repeat Hydrography</text></g>
<g id="n-animalctd"><rect class="g" x="1334" y="958" width="13" height="19"/><text class="t e" x="1325" y="973">Animal CTD</text></g>
<g id="n-acoustic"><rect class="g" x="1334" y="993" width="13" height="5"/><text class="t e" x="1325" y="1002">Acoustic Network</text></g>
<g id="n-coastalsurveys"><rect class="g" x="1334" y="1012" width="13" height="23"/><text class="t e" x="1325" y="1030">Coastal Surveys</text></g>
<g id="n-netscpr"><rect class="g" x="1334" y="1048" width="13" height="13"/><text class="t e" x="1325" y="1061">Nets CPR</text></g>
<g id="n-partexport"><rect class="b" x="1334" y="1075" width="13" height="70"/><text class="t e" x="1325" y="1117">Particulate Export flux</text></g>

<g id="n-ceos"><rect class="r" x="1599" y="302" width="13" height="20"/><text class="t e" x="1590" y="318">CEOS</text></g>
<g id="n-argo"><rect class="r" x="1599" y="335" width="13" height="11"/><text class="t e" x="1590" y="347">Argo</text></g>
<g id="n-coriolisnet"><rect class="r" x="1599" y="362" width="13" height="12"/><text class="t e" x="1590" y="374">CORIOLIS-net</text></g>
<g id="n-gloss"><rect class="r" x="1599" y="389" width="13" height="12"/><text class="t e" x="1590" y="401">GLOSS</text></g>
<g id="n-sot"><rect class="r" x="1599" y="415" width="13" height="17"/><text class="t e" x="1590" y="430">SOT SOOP VOS</text></g>
<g id="n-dbcpgdp"><rect class="r" x="1599" y="447" width="13" height="3"/><text class="t e" x="1590" y="454">DBCP GDP</text></g>
<g id="n-dbcptip"><rect class="r" x="1599" y="465" width="13" height="13"/><text class="t e" x="1590" y="477">DBCP TIP</text></g>
<g id="n-hfgeo"><rect class="r" x="1599" y="493" width="13" height="3"/><text class="t e" x="1590" y="500">HF Radar GEO CoP</text></g>
<g id="n-glidersteer"><rect class="r" x="1599" y="510" width="13" height="3"/><text class="t e" x="1590" y="517">Glider Steering Team</text></g>
<g id="n-ostst"><rect class="r" x="1599" y="527" width="13" height="3"/><text class="t e" x="1590" y="534">OST/ST</text></g>
<g id="n-meop"><rect class="r" x="1599" y="543" width="13" height="3"/><text class="t e" x="1590" y="551">MEOP</text></g>
<g id="n-ghrsst"><rect class="r" x="1599" y="558" width="13" height="17"/><text class="t e" x="1590" y="573">GHRSST</text></g>
<g id="n-goship"><rect class="b" x="1599" y="592" width="13" height="16"/><text class="t e" x="1590" y="606">GO-SHIP</text></g>
<g id="n-ioccp"><rect class="b" x="1599" y="624" width="13" height="4"/><text class="t e" x="1590" y="633">IOCCP</text></g>
<g id="n-goaon1"><rect class="b" x="1599" y="646" width="13" height="4"/><text class="t e" x="1590" y="654">GOA-ON</text></g>
<g id="n-memento"><rect class="b" x="1599" y="667" width="13" height="4"/><text class="t e" x="1590" y="675">MEMENTO</text></g>
<g id="n-oceansites"><rect class="g" x="1599" y="688" width="13" height="17"/><text class="t e" x="1590" y="703">OceanSITES</text></g>
<g id="n-otn"><rect class="g" x="1599" y="722" width="13" height="4"/><text class="t e" x="1590" y="729">OTN</text></g>
<g id="n-gacs"><rect class="g" x="1599" y="745" width="13" height="4"/><text class="t e" x="1590" y="752">GACS</text></g>
<g id="n-goaon2"><rect class="g" x="1599" y="767" width="13" height="4"/><text class="t e" x="1590" y="775">GOAON</text></g>
<g id="n-gcrmn"><rect class="g" x="1599" y="788" width="13" height="8"/><text class="t e" x="1590" y="798">GCRMN</text></g>
<g id="n-individual"><rect class="m" x="1599" y="813" width="13" height="42"/><text class="t e" x="1590" y="840">Individual Scientists</text></g>
<g id="n-general"><rect class="m" x="1599" y="868" width="13" height="32"/><text class="t e" x="1590" y="891">General</text></g>
<g id="n-bsgoos"><rect class="v" x="1599" y="913" width="13" height="3"/><text class="t e" x="1590" y="920">BS GOOS</text></g>
<g id="n-eurogoos"><rect class="v" x="1599" y="927" width="13" height="26"/><text class="t e" x="1590" y="946">EuroGOOS</text></g>
<g id="n-grasp"><rect class="v" x="1599" y="966" width="13" height="3"/><text class="t e" x="1590" y="973">GRASP</text></g>
<g id="n-imos"><rect class="v" x="1599" y="983" width="13" height="3"/><text class="t e" x="1590" y="990">IMOS</text></g>
<g id="n-iocafrica"><rect class="v" x="1599" y="1001" width="13" height="3"/><text class="t e" x="1590" y="1008">IOCAfrica-GOOS</text></g>
<g id="n-iocaribe"><rect class="v" x="1599" y="1017" width="13" height="3"/><text class="t e" x="1590" y="1023">IOCARIBE-GOOS</text></g>
<g id="n-iogoos"><rect class="v" x="1599" y="1034" width="13" height="3"/><text class="t e" x="1590" y="1041">IOGOOS</text></g>
<g id="n-mongoos"><rect class="v" x="1599" y="1051" width="13" height="3"/><text class="t e" x="1590" y="1058">MONGOOS</text></g>
<g id="n-neargoos"><rect class="v" x="1599" y="1068" width="13" height="3"/><text class="t e" x="1590" y="1075">NEAR-GOOS</text></g>
<g id="n-oceatlan"><rect class="v" x="1599" y="1086" width="13" height="3"/><text class="t e" x="1590" y="1093">OceAtlan</text></g>
<g id="n-pigoos"><rect class="v" x="1599" y="1104" width="13" height="3"/><text class="t e" x="1590" y="1111">PI-GOOS</text></g>
<g id="n-seagoos"><rect class="v" x="1599" y="1121" width="13" height="3"/><text class="t e" x="1590" y="1128">SEAGOOS</text></g>
<g id="n-usioos"><rect class="v" x="1599" y="1138" width="13" height="3"/><text class="t e" x="1590" y="1146">US IOOS</text></g>

<g id="n-gtswis"><rect class="r" x="1863" y="422" width="13" height="12"/><text class="t e" x="1854" y="434">GTS / WIS</text></g>
<g id="n-nodc"><rect class="r" x="1863" y="447" width="13" height="22"/><text class="t e" x="1854" y="464">NODC USA</text></g>
<g id="n-argods"><rect class="r" x="1863" y="484" width="13" height="3"/><text class="t e" x="1854" y="491">Argo Data System</text></g>
<g id="n-iquod"><rect class="r" x="1863" y="503" width="13" height="8"/><text class="t e" x="1854" y="513">IQuOD</text></g>
<g id="n-gosud"><rect class="r" x="1863" y="527" width="13" height="5"/><text class="t e" x="1854" y="536">GOSUD</text></g>
<g id="n-osdata"><rect class="g" x="1863" y="548" width="13" height="3"/><text class="t e" x="1854" y="556">OceanSITES data</text></g>
<g id="n-goshipdata"><rect class="g" x="1863" y="565" width="13" height="3"/><text class="t e" x="1854" y="573">GO-SHIP Data</text></g>
<g id="n-podaac"><rect class="r" x="1863" y="585" width="13" height="6"/><text class="t e" x="1854" y="594">PODAAC</text></g>
<g id="n-cdiac"><rect class="b" x="1863" y="608" width="13" height="6"/><text class="t e" x="1854" y="617">CDIAC</text></g>
<g id="n-ndbc"><rect class="r" x="1863" y="630" width="13" height="8"/><text class="t e" x="1854" y="640">NDBC</text></g>
<g id="n-socat"><rect class="b" x="1863" y="652" width="13" height="3"/><text class="t e" x="1854" y="660">SOCAT</text></g>
<g id="n-glodap"><rect class="b" x="1863" y="670" width="13" height="3"/><text class="t e" x="1854" y="678">GLODAP</text></g>
<g id="n-oscar"><rect class="r" x="1863" y="688" width="13" height="3"/><text class="t e" x="1854" y="696">OSCAR</text></g>
<g id="n-cchdo"><rect class="b" x="1863" y="707" width="13" height="12"/><text class="t e" x="1854" y="719">CCHDO</text></g>
<g id="n-gtspp"><rect class="r" x="1863" y="733" width="13" height="3"/><text class="t e" x="1854" y="741">GTSPP</text></g>
<g id="n-psmsl"><rect class="r" x="1863" y="750" width="13" height="3"/><text class="t e" x="1854" y="758">PSMSL</text></g>
<g id="n-nasages"><rect class="r" x="1863" y="768" width="13" height="6"/><text class="t e" x="1854" y="777">NASA GES DISC</text></g>
<g id="n-globcurrent"><rect class="r" x="1863" y="791" width="13" height="6"/><text class="t e" x="1854" y="800">Globcurrent</text></g>
<g id="n-aviso"><rect class="r" x="1863" y="812" width="13" height="3"/><text class="t e" x="1854" y="820">AVISO</text></g>
<g id="n-coriolisdata"><rect class="r" x="1863" y="830" width="13" height="3"/><text class="t e" x="1854" y="838">Coriolis-data</text></g>
<g id="n-atndac"><rect class="g" x="1863" y="847" width="13" height="3"/><text class="t e" x="1854" y="855">ATN-DAC</text></g>
<g id="n-meopdata"><rect class="r" x="1863" y="865" width="13" height="3"/><text class="t e" x="1854" y="873">MEOP-data</text></g>
<g id="n-samos"><rect class="r" x="1863" y="883" width="13" height="6"/><text class="t e" x="1854" y="892">SAMOS</text></g>
<g id="n-seaflux"><rect class="r" x="1863" y="905" width="13" height="6"/><text class="t e" x="1854" y="914">SeaFlux</text></g>
<g id="n-erddap"><rect class="r" x="1863" y="927" width="13" height="6"/><text class="t e" x="1854" y="936">ERDDAP</text></g>
<g id="n-hfraddata"><rect class="r" x="1863" y="948" width="13" height="3"/><text class="t e" x="1854" y="956">HF-Rad Data</text></g>
<g id="n-ssalto"><rect class="r" x="1863" y="967" width="13" height="6"/><text class="t e" x="1854" y="976">SSALTO/DUACS</text></g>
<g id="n-gacsdata"><rect class="r" x="1863" y="987" width="13" height="18"/><text class="t e" x="1854" y="1002">GACS Data</text></g>
<g id="n-obis"><rect class="g" x="1863" y="1018" width="13" height="8"/><text class="t e" x="1854" y="1028">OBIS</text></g>
<g id="n-odp"><rect class="r" x="1863" y="1040" width="13" height="3"/><text class="t e" x="1854" y="1048">Ocean Data Portal</text></g>
<g id="n-otndata"><rect class="g" x="1863" y="1057" width="13" height="14"/><text class="t e" x="1854" y="1070">OTN Data</text></g>
<g id="n-graspecific"><rect class="v" x="1863" y="1085" width="13" height="60"/><text class="t e" x="1854" y="1121">GRA Specific</text></g>
</g>
<g id="title">
<text class="ttl" x="51" y="82" textLength="772" lengthAdjust="spacingAndGlyphs">Global Ocean Observing System (GOOS)</text>
<text class="ttl" x="51" y="139" font-weight="bold" textLength="503" lengthAdjust="spacingAndGlyphs">Essential Ocean Variables</text>
</g>
<g id="annotations">
<path class="ann" d="M975 6C1010 1 1075 0 1103 6C1118 11 1114 28 1100 39C1088 48 1060 50 1020 50C985 50 955 48 947 40C938 30 950 17 966 10C978 5 992 3 1004 3"/>
<path class="ann" d="M962 346C1000 337 1055 334 1080 341C1092 347 1091 366 1083 381C1076 391 1066 397 1048 398C1010 399 960 398 934 393C918 389 920 372 931 359C940 349 955 343 976 341"/>
</g>
</svg>
